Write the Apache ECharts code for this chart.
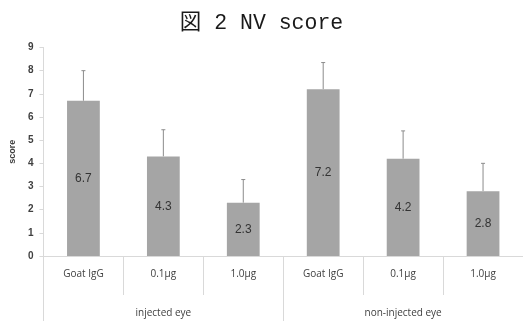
<!DOCTYPE html>
<html><head><meta charset="utf-8">
<script src="https://cdn.jsdelivr.net/npm/echarts@6/dist/echarts.min.js"></script>
<style>html,body{margin:0;padding:0;background:#fff}#c{width:523px;height:324px}</style>
</head><body><div id="c"></div>
<script>
const titleText = '図 2 NV score';
const categories = ['Goat IgG','0.1μg','1.0μg','Goat IgG','0.1μg','1.0μg'];
const groups = ['injected eye','non-injected eye'];
const means = [6.7, 4.3, 2.3, 7.2, 4.2, 2.8];
const errTops = [8.0, 5.45, 3.3, 8.35, 5.4, 4.0];
const yTicks = [0, 9, 1];

const chart = echarts.init(document.getElementById('c'));
chart.setOption({
  animation: false,
  title: {
    text: titleText, left: 'center', top: 8,
    textStyle: { fontFamily: "'Liberation Mono','Noto Sans CJK JP'", fontSize: 21.5, fontWeight: 'normal', color: '#1a1a1a' }
  },
  grid: { left: 40, right: 0, top: 47.5, bottom: 68, containLabel: false },
  xAxis: [
    {
      type: 'category', data: categories, position: 'bottom',
      axisLine: { lineStyle: { color: '#d9d9d9' } },
      axisTick: { show: true, interval: 0, length: 39, lineStyle: { color: '#d9d9d9' } },
      axisLabel: { interval: 0, margin: 13, fontSize: 10, color: '#404040', fontFamily: "'Open Sans', sans-serif" }
    },
    {
      type: 'category', data: groups, position: 'bottom', offset: 39,
      axisLine: { show: false },
      axisTick: { show: true, interval: 0, length: 26, lineStyle: { color: '#d9d9d9' } },
      axisLabel: { interval: 0, margin: 13, fontSize: 10, color: '#404040', fontFamily: "'Open Sans', sans-serif" }
    }
  ],
  yAxis: {
    type: 'value', min: yTicks[0], max: yTicks[1], interval: yTicks[2],
    name: 'score', nameLocation: 'middle', nameGap: 25, nameRotate: 90,
    nameTextStyle: { fontSize: 9, fontWeight: 'bold', color: '#404040' },
    axisLine: { show: true, lineStyle: { color: '#d9d9d9' } },
    axisTick: { show: true, length: 4, lineStyle: { color: '#d9d9d9' } },
    axisLabel: { fontSize: 10, margin: 10, color: '#404040', fontWeight: 'bold' },
    splitLine: { show: false }
  },
  series: [
    {
      type: 'bar', data: means, barWidth: '41%', xAxisIndex: 0,
      itemStyle: { color: '#a5a5a5' },
      label: { show: true, position: 'inside', fontSize: 12, color: '#333', formatter: p => p.value.toFixed(1) }
    },
    {
      type: 'custom', xAxisIndex: 0, z: 1,
      data: means.map((m, i) => [i, m, errTops[i]]),
      renderItem: (params, api) => {
        const base = api.coord([api.value(0), api.value(1)]);
        const top = api.coord([api.value(0), api.value(2)]);
        return {
          type: 'group', children: [
            { type: 'line', shape: { x1: base[0], y1: base[1], x2: top[0], y2: top[1] }, style: { stroke: '#8c8c8c', lineWidth: 1 } },
            { type: 'line', shape: { x1: top[0]-2, y1: top[1], x2: top[0]+2, y2: top[1] }, style: { stroke: '#8c8c8c', lineWidth: 1 } }
          ]
        };
      }
    }
  ]
});
</script></body></html>
